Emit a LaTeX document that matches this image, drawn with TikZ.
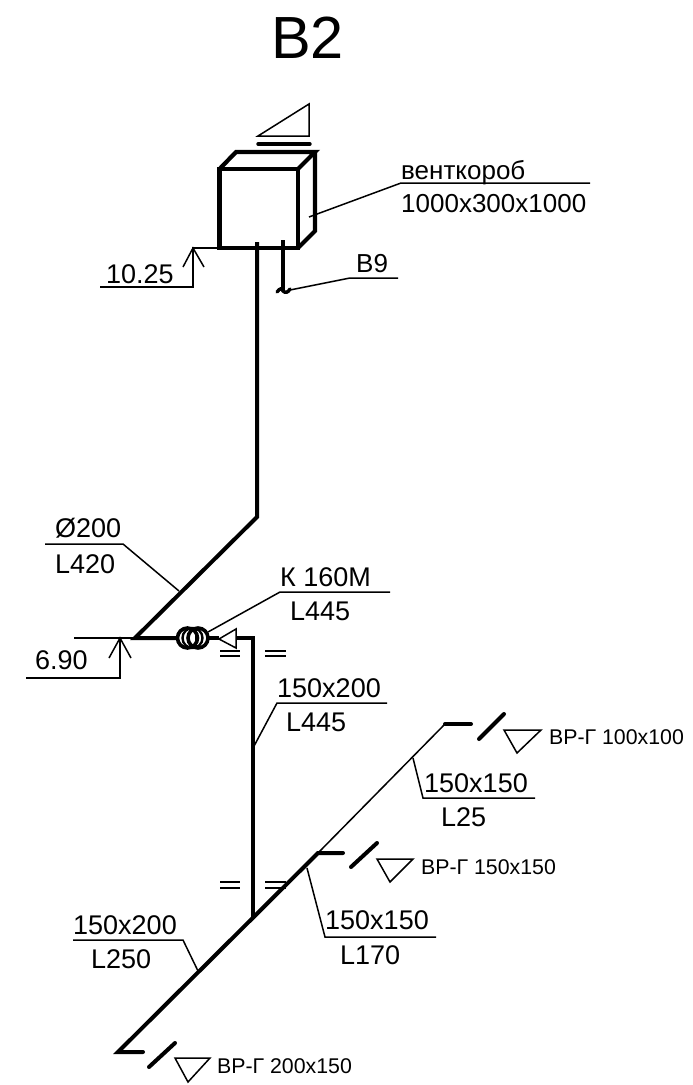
\documentclass[tikz,border=0pt]{standalone}
\usepackage{fontspec}
\setmainfont{Liberation Sans}
\tikzset{
  thinln/.style={line width=1.5pt},
  thickln/.style={line width=4pt},
  boxln/.style={line width=4.2pt,line join=miter},
  lab/.style={anchor=base west,inner sep=0pt,font=\fontsize{27}{30}\selectfont},
  wlab/.style={anchor=base west,inner sep=0pt,font=\fontsize{26}{29}\selectfont},
  smalllab/.style={anchor=base west,inner sep=0pt,font=\fontsize{21.3}{24}\selectfont},
}
\begin{document}
\begin{tikzpicture}[x=1pt,y=-1pt]
\useasboundingbox (0,0) rectangle (693,1085);
% title
\node[anchor=base west,inner sep=0pt,font=\fontsize{59.5}{62}\selectfont] (title) at (271,58) {В2};
% named points
\coordinate (jointop) at (257,517);
\coordinate (elbow) at (135,638);
\coordinate (tee) at (253,638);
\coordinate (riserbot) at (253,917);
\coordinate (mainend) at (118,1052);
\coordinate (mainbr) at (318,853);
\coordinate (farbr) at (445,724);
% box
\draw[boxln] (219.5,169) rectangle (298,248);
\draw[boxln] (219.5,169) -- (236,152) -- (315,152) -- (298,169);
\draw[boxln] (315,152) -- (315,231) -- (298,248);
% top damper symbol
\draw[thinln] (258,136) -- (309,136) -- (309,104) -- cycle;
\draw[line width=3.4pt,line cap=round] (258,144) -- (310,144);
% stacks
\draw[thickln] (257,242) -- (jointop) -- (elbow) -- (178,638);
\draw[thickln] (283,240) -- (283,290);
\draw[line width=3.4pt,line cap=round] (277,292) .. controls (280,288) and (282,288) .. (283,291) .. controls (285,293) and (288,293) .. (290,289);
% damper at K160M
\draw[line width=3.6pt] (187.5,638) circle (10);
\draw[line width=2.4pt] (192.5,638) circle (10);
\draw[line width=3.6pt] (198,638) circle (10);
\draw[line width=2.4pt] (196,627) -- (196,649);
\draw[thickln] (208,638) -- (219,638);
\draw[thinln,fill=white] (219,639) -- (236,629) -- (236,648) -- cycle;
\draw[thickln] (236,638) -- (tee) -- (riserbot);
% equals
\foreach \x/\xx in {220/240,265/286}{
  \draw[thinln] (\x,651) -- (\xx,651);
  \draw[thinln] (\x,656) -- (\xx,656);
  \draw[thinln] (\x,882) -- (\xx,882);
  \draw[thinln] (\x,888) -- (\xx,888);
}
% main diagonal
\draw[thickln,line cap=round,line join=miter] (143,1052) -- (mainend) -- (mainbr) -- (343,853);
\draw[thinln] (mainbr) -- (farbr);
\draw[thickln,line cap=round] (farbr) -- (471,724);
% slashes and grilles
\draw[thickln,line cap=round] (479,739) -- (504,714);
\draw[thickln,line cap=round] (351,867) -- (377,843);
\draw[thickln,line cap=round] (149,1067) -- (175,1043);
\draw[thinln] (504,730) -- (541,730) -- (517,753) -- cycle;
\draw[thinln] (377,859) -- (413,859) -- (390,882) -- cycle;
\draw[thinln] (175,1058) -- (210,1058) -- (188,1082) -- cycle;
\node[smalllab] (g1) at (549,744) {ВР-Г 100x100};
\node[smalllab] (g2) at (421,874) {ВР-Г 150x150};
\node[smalllab] (g3) at (217,1073) {ВР-Г 200x150};
% leaders
\draw[thinln] (309,217) -- (401,183) -- (590,183);
\node[wlab] (v1) at (401,179) {венткороб};
\node[wlab] (v2) at (401,212) {1000x300x1000};
\draw[thinln] (290,290) -- (350,278) -- (398,278);
\node[wlab] (b9) at (356,272) {В9};
\draw[thinln] (179,591) -- (123,544) -- (45,544);
\node[lab] (d200) at (55,537) {Ø200};
\node[lab] (l420) at (55,573) {L420};
\draw[thinln] (208,632) -- (280,592) -- (390,592);
\node[lab] (k160) at (280,586) {К 160М};
\node[lab] (l445a) at (290,620) {L445};
\draw[thinln] (253,748) -- (277,703) -- (387,703);
\node[lab] (s1) at (277,697) {150x200};
\node[lab] (l445b) at (286,731) {L445};
\draw[thinln] (413,758) -- (423,798) -- (535,798);
\node[lab] (s2) at (424,792) {150x150};
\node[lab] (l25) at (441,826) {L25};
\draw[thinln] (307,868) -- (325,937) -- (436,937);
\node[lab] (s3) at (325,929) {150x150};
\node[lab] (l170) at (340,964) {L170};
\draw[thinln] (198,971) -- (183,940) -- (73,940);
\node[lab] (s4) at (73,934) {150x200};
\node[lab] (l250) at (91,968) {L250};
% levels
\draw[thinln] (219,248) -- (193,248) -- (193,287) -- (100,287);
\draw[thinln] (183,267) -- (193,248) -- (204,267);
\node[lab] (lv1) at (106,283) {10.25};
\draw[thinln] (elbow) -- (74,638);
\draw[thinln] (120,638) -- (120,678) -- (26,678);
\draw[thinln] (109,658) -- (120,638) -- (131,658);
\node[lab] (lv2) at (35,669) {6.90};
\end{tikzpicture}
\end{document}
